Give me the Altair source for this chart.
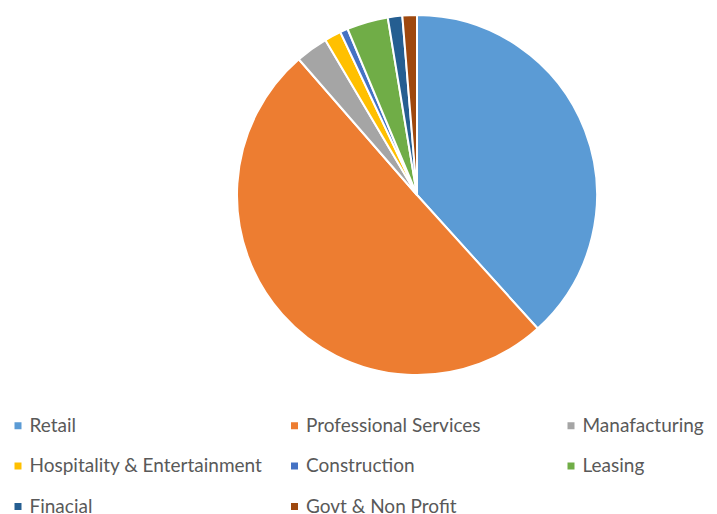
import altair as alt
import pandas as pd

categories = ["Retail", "Professional Services", "Manafacturing",
              "Hospitality & Entertainment", "Construction", "Leasing",
              "Finacial", "Govt & Non Profit"]
values = [38.3, 50.3, 2.9, 1.5, 0.7, 3.7, 1.3, 1.3]
colors = ["#5B9BD5", "#ED7D31", "#A5A5A5", "#FFC000", "#4472C4", "#70AD47",
          "#255E91", "#9E480E"]

df = pd.DataFrame({"category": categories, "value": values,
                   "order": list(range(len(categories)))})

chart = alt.Chart(df).mark_arc(outerRadius=180, stroke="white", strokeWidth=2).encode(
    theta=alt.Theta("value:Q", stack=True),
    order=alt.Order("order:Q"),
    color=alt.Color(
        "category:N",
        sort=categories,
        scale=alt.Scale(domain=categories, range=colors),
        legend=alt.Legend(
            title=None, orient="none", legendX=0.5, legendY=408,
            direction="horizontal",
            columns=3, gridAlign="all", columnPadding=22.5, rowPadding=20.5,
            symbolType="square", symbolSize=49, symbolStrokeWidth=0,
            labelFont="Lato", labelFontSize=19, labelColor="#595959",
            labelOffset=2, labelLimit=400,
        ),
    ),
    x=alt.value(409),
    y=alt.value(187),
).properties(
    width=701, height=506,
    autosize=alt.AutoSizeParams(type="none"),
    padding=0,
).configure_view(stroke=None)

chart.save("out.html", embed_options={"renderer": "svg", "actions": False})
